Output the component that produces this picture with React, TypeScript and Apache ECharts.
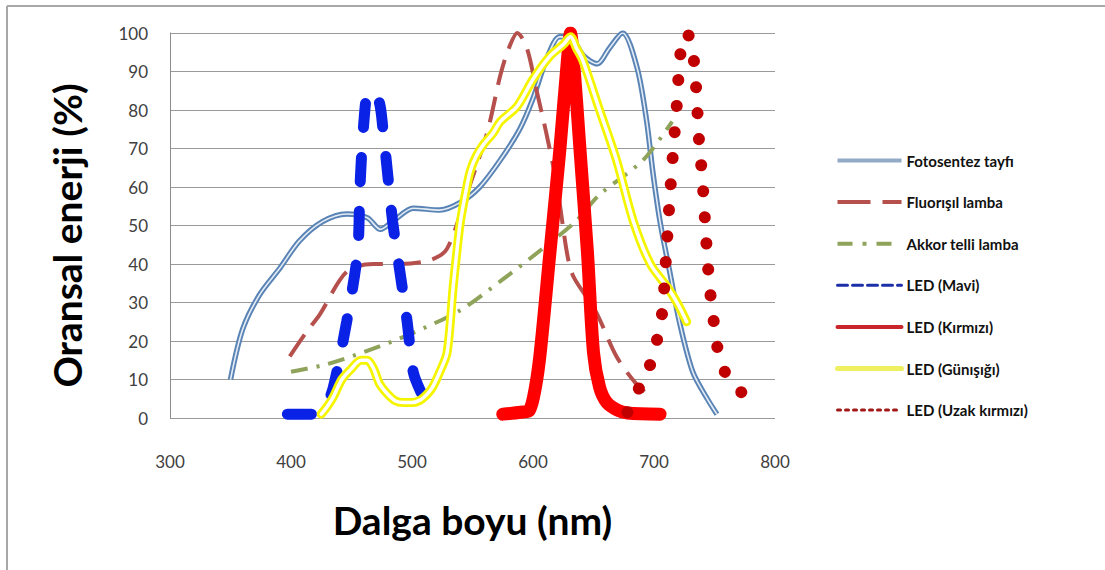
import React, { useEffect, useRef } from "react";
import * as echarts from "echarts";

// ---- data (wavelength nm, relative energy %) ----
const seriesNames = [
  "Fotosentez tayfı",
  "Fluorışıl lamba",
  "Akkor telli lamba",
  "LED (Mavi)",
  "LED (Kırmızı)",
  "LED (Günışığı)",
  "LED (Uzak kırmızı)",
];

const xTicks = [300, 400, 500, 600, 700, 800];
const yTicks = [0, 10, 20, 30, 40, 50, 60, 70, 80, 90, 100];

const fotosentez = [
  [350, 10], [360, 23], [374, 32], [391, 39], [407, 46], [426, 51], [446, 53],
  [463, 52], [474, 49], [484, 51], [501, 54.5], [523, 54], [540, 56], [556, 60],
  [573, 67], [589, 75], [600, 83], [611, 93], [622, 99], [630, 99], [642, 94],
  [653, 92], [663, 96], [674, 100], [686, 91], [694, 77], [699, 64], [705, 51],
  [713, 38], [721, 25], [732, 12], [744, 5], [752, 1],
];

const fluorisil = [
  [399, 16], [412, 22], [424, 27], [446, 38], [468, 40], [490, 40], [515, 41],
  [529, 44], [545, 58], [562, 74], [573, 89], [580, 96], [587, 100], [595, 96],
  [603, 85], [611, 74], [620, 60], [628, 43], [633, 37], [645, 31], [653, 27],
  [669, 16], [685, 9], [699, 5],
];

const akkor = [
  [400, 12], [430, 14], [468, 18], [500, 22], [540, 28], [575, 36], [608, 44],
  [635, 51], [655, 58], [691, 67], [715, 77],
];

const ledMavi = [
  [397, 1], [421, 1], [430, 4], [435, 8], [446, 25], [455, 43], [457, 60],
  [460, 76], [464, 85], [469, 83], [473, 82], [476, 75], [480, 63], [484, 51],
  [490, 38], [496, 25], [501, 12], [507, 7], [513, 4],
];

const ledKirmizi = [
  [575, 1], [590, 1.5], [597, 2], [602, 8], [606, 17], [614, 43], [622, 69],
  [629, 95], [631, 100], [633, 95], [639, 69], [645, 43], [650, 17], [655, 8],
  [661, 4], [670, 2], [678, 1.3], [705, 1],
];

const ledGunisigi = [
  [425, 1], [430, 3], [435, 5.5], [442, 10], [449, 12.5], [458, 15], [463, 15],
  [468, 13], [473, 9], [479, 6.5], [486, 4.5], [493, 4], [500, 4], [507, 4.7],
  [512, 6], [517, 8], [523, 12], [529, 17], [534, 34], [537, 43], [540, 51],
  [544, 58], [548, 64], [553, 68], [559, 71], [567, 74], [573, 77], [587, 81],
  [600, 88], [614, 94], [625, 97], [631, 99], [636, 96], [641, 93], [655, 80],
  [669, 67], [683, 51], [697, 40], [711, 34], [719, 30], [727, 25],
];

const ledUzakKirmizi = [
  [678, 1.5], [688, 8], [697, 14], [703, 21], [707, 28], [710, 42], [713, 57],
  [716, 70], [719, 82], [721, 92], [724, 99], [727, 100], [732, 95], [735, 85],
  [737, 73], [740, 62], [742, 52], [744, 42], [746, 34], [749, 26], [752, 19],
  [757, 13], [765, 9], [778, 5],
];

const FONT = "Lato, 'Open Sans', sans-serif";

export default function App() {
  const ref = useRef<HTMLDivElement>(null);

  useEffect(() => {
    if (!ref.current) return;
    const chart = echarts.init(ref.current, null, { renderer: "svg" });

    const base = {
      type: "line",
      showSymbol: false,
      symbol: "none",
      silent: true,
      animation: false,
    };

    const legendStyles: any[] = [
      { width: 4, color: "#93aac6", type: "solid" },
      { width: 4, color: "#b5504d", type: [33, 12] },
      { width: 4, color: "#8fa35a", type: [15, 10, 4, 10] },
      { width: 3, color: "#1b2fa8", type: [10, 5] },
      { width: 4, color: "#c8262a", type: "solid" },
      { width: 5, color: "#eef060", type: "solid" },
      { width: 3, color: "#a01818", type: [3, 5] },
    ];

    const option: any = {
      animation: false,
      backgroundColor: "#ffffff",
      textStyle: { fontFamily: FONT },
      grid: { left: 170, right: 330, top: 33, bottom: 152, containLabel: false },
      xAxis: {
        type: "value",
        min: xTicks[0],
        max: xTicks[xTicks.length - 1],
        interval: 100,
        axisLine: { show: false },
        axisTick: { show: false },
        splitLine: { show: false },
        axisLabel: {
          margin: 35,
          fontSize: 17,
          color: "#404040",
          fontFamily: FONT,
        },
        name: "Dalga boyu (nm)",
        nameLocation: "middle",
        nameGap: 82,
        nameTextStyle: {
          fontSize: 39,
          fontWeight: "bold",
          color: "#000",
          fontFamily: FONT,
        },
      },
      yAxis: {
        type: "value",
        min: yTicks[0],
        max: yTicks[yTicks.length - 1],
        interval: 10,
        axisLine: { show: true, lineStyle: { color: "#8c8c8c", width: 1 } },
        axisTick: { show: false },
        splitLine: { show: true, lineStyle: { color: "#9a9a9a", width: 1 } },
        axisLabel: {
          margin: 22,
          fontSize: 17,
          color: "#404040",
          fontFamily: FONT,
        },
        name: "Oransal enerji (%)",
        nameLocation: "middle",
        nameGap: 84,
        nameTextStyle: {
          fontSize: 39,
          fontWeight: "bold",
          color: "#000",
          fontFamily: FONT,
          padding: [0, 20, 0, 0],
        },
      },
      legend: {
        orient: "vertical",
        left: 830,
        top: 148,
        itemWidth: 64,
        itemHeight: 14,
        itemGap: 26.6,
        selectedMode: false,
        itemStyle: { opacity: 0 },
        textStyle: {
          fontSize: 15,
          fontWeight: "bold",
          color: "#111",
          fontFamily: FONT,
        },
        data: seriesNames.map((n, i) => ({ name: n, lineStyle: legendStyles[i] })),
      },
      graphic: [
        { type: "line", shape: { x1: 7, y1: 6, x2: 1105, y2: 6 }, style: { stroke: "#a8a8a8", lineWidth: 2 }, silent: true },
        { type: "line", shape: { x1: 7, y1: 6, x2: 7, y2: 570 }, style: { stroke: "#a8a8a8", lineWidth: 2 }, silent: true },
      ],
      series: [
        {
          ...base,
          name: seriesNames[0],
          data: fotosentez,
          smooth: 0.3,
          lineStyle: { color: "#5a84b5", width: 5.5 },
        },
        {
          ...base,
          name: "fotosentez-inner",
          data: fotosentez,
          smooth: 0.3,
          lineStyle: { color: "#e4ecf5", width: 1.6 },
        },
        {
          ...base,
          name: seriesNames[1],
          data: fluorisil,
          smooth: 0.3,
          lineStyle: { color: "#b5504d", width: 4, type: [26, 12] },
        },
        {
          ...base,
          name: seriesNames[2],
          data: akkor,
          smooth: 0.3,
          lineStyle: { color: "#8fa35a", width: 4, type: [17, 9, 3, 9] },
        },
        {
          ...base,
          name: seriesNames[3],
          data: ledMavi,
          smooth: 0.3,
          lineStyle: { color: "#0a22e6", width: 11, type: [24, 30], cap: "round" },
        },
        {
          ...base,
          name: seriesNames[4],
          data: ledKirmizi,
          smooth: 0.3,
          lineStyle: { color: "#ff0000", width: 13, cap: "round", join: "round" },
        },
        {
          ...base,
          name: seriesNames[5],
          data: ledGunisigi,
          smooth: 0.3,
          lineStyle: { color: "#f5f500", width: 9, cap: "round", join: "round" },
        },
        {
          ...base,
          name: "gunisigi-inner",
          data: ledGunisigi,
          smooth: 0.3,
          lineStyle: { color: "#ffffff", width: 3.5, cap: "round", join: "round" },
        },
        {
          ...base,
          name: seriesNames[6],
          data: ledUzakKirmizi,
          smooth: 0.3,
          lineStyle: { color: "#c00000", width: 12, type: [0.1, 26], cap: "round" },
        },
      ],
    };

    chart.setOption(option);
    return () => chart.dispose();
  }, []);

  return (
    <div
      ref={ref}
      style={{ position: "absolute", left: 0, top: 0, width: 1105, height: 570 }}
    />
  );
}
